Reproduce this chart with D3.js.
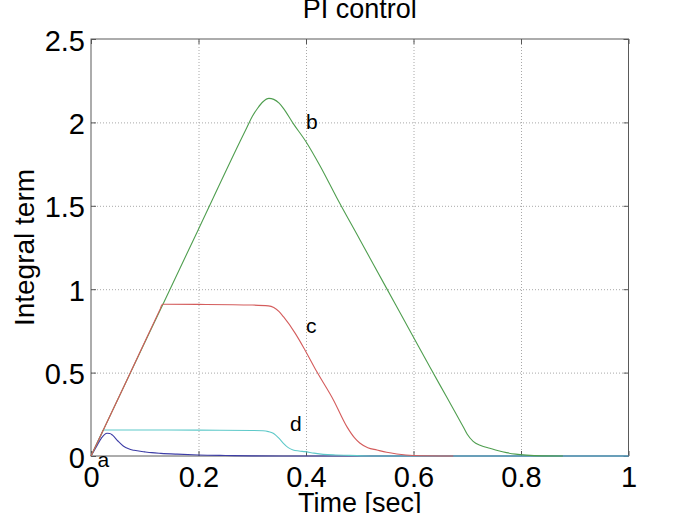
<!DOCTYPE html>
<html>
<head>
<meta charset="utf-8">
<script src="https://cdn.jsdelivr.net/npm/d3@7/dist/d3.min.js"></script>
<style>
  body { margin: 0; background: #fff; }
  text { font-family: "Liberation Sans", Arial, sans-serif; fill: #000; }
</style>
</head>
<body>
<div id="chart"></div>
<script>
// tick values and their labels
var xTicks = [0, 0.2, 0.4, 0.6, 0.8, 1];
var xTickLabels = ["0", "0.2", "0.4", "0.6", "0.8", "1"];
var yTicks = [0, 0.5, 1, 1.5, 2, 2.5];
var yTickLabels = ["0", "0.5", "1", "1.5", "2", "2.5"];

// curve a (blue)
var timeA = [0, 0.01, 0.02, 0.025, 0.03, 0.035, 0.04, 0.05, 0.06, 0.07, 0.08, 0.10, 0.113, 0.13, 0.16, 0.20, 0.25, 0.30, 0.40, 0.52, 1.0];
var valueA = [0, 0.055, 0.11, 0.128, 0.136, 0.135, 0.125, 0.09, 0.06, 0.043, 0.034, 0.025, 0.02, 0.016, 0.011, 0.006, 0.003, 0.001, 0, 0, 0];

// curve b (green)
var timeB = [0, 0.1, 0.2, 0.277, 0.29, 0.30, 0.31, 0.32, 0.331, 0.34, 0.35, 0.358, 0.376, 0.40, 0.426, 0.457, 0.50, 0.55, 0.60, 0.631, 0.662, 0.693, 0.70, 0.711, 0.725, 0.742, 0.758, 0.773, 0.79, 0.81, 0.84, 0.878];
var valueB = [0, 0.68, 1.36, 1.884, 1.97, 2.035, 2.085, 2.124, 2.144, 2.138, 2.115, 2.084, 1.994, 1.884, 1.74, 1.55, 1.298, 1.005, 0.712, 0.53, 0.352, 0.172, 0.13, 0.088, 0.063, 0.046, 0.031, 0.02, 0.011, 0.005, 0.001, 0];

// curve c (red)
var timeC = [0, 0.066, 0.128, 0.133, 0.2, 0.3, 0.33, 0.34, 0.35, 0.358, 0.38, 0.398, 0.42, 0.451, 0.476, 0.49, 0.50, 0.515, 0.532, 0.55, 0.569, 0.60, 0.674];
var valueC = [0, 0.449, 0.876, 0.91, 0.909, 0.905, 0.9, 0.89, 0.865, 0.835, 0.735, 0.636, 0.506, 0.336, 0.176, 0.11, 0.078, 0.05, 0.036, 0.022, 0.012, 0.003, 0];

// curve d (cyan)
var timeD = [0, 0.012, 0.02, 0.023, 0.1, 0.2, 0.3, 0.32, 0.33, 0.339, 0.35, 0.358, 0.367, 0.376, 0.387, 0.398, 0.415, 0.432, 0.455, 0.48, 0.52, 1.0];
var valueD = [0, 0.082, 0.137, 0.156, 0.156, 0.155, 0.153, 0.151, 0.146, 0.136, 0.105, 0.076, 0.05, 0.036, 0.03, 0.026, 0.017, 0.01, 0.006, 0.004, 0, 0];

var curveNames = ["a", "d", "b", "c"];
var curveLabels = [
    {name: "a", t: 0.012, v: -0.066},
    {name: "b", t: 0.4, v: 1.96},
    {name: "c", t: 0.4, v: 0.74},
    {name: "d", t: 0.37, v: 0.15}
];

var chart = {
    width: 694,
    height: 513,
    margin: {top: 39, right: 65.5, bottom: 57, left: 91},
    colors: {a: "#3d3da6", b: "#4f9e4f", c: "#d45c5c", d: "#5ec9c9"},
    initialize: function() {
        var self = this;
        self.innerW = self.width - self.margin.left - self.margin.right;
        self.innerH = self.height - self.margin.top - self.margin.bottom;
        self.svg = d3.select("#chart").append("svg")
            .attr("width", self.width)
            .attr("height", self.height);
        self.g = self.svg.append("g")
            .attr("transform", "translate(" + self.margin.left + "," + self.margin.top + ")");
        self.x = d3.scaleLinear().domain([0, 1]).range([0, self.innerW]);
        self.y = d3.scaleLinear().domain([0, 2.5]).range([self.innerH, 0]);
    },
    draw_grid: function() {
        var self = this;
        self.g.append("g")
            .attr("transform", "translate(0," + self.innerH + ")")
            .call(d3.axisBottom(self.x).tickValues(xTicks.slice(1, -1)).tickSize(-self.innerH).tickFormat(""))
            .call(function(g) { g.select(".domain").remove(); })
            .selectAll("line")
            .attr("stroke", "#a8a8a8")
            .attr("stroke-dasharray", "1,2");
        self.g.append("g")
            .call(d3.axisLeft(self.y).tickValues(yTicks.slice(1, -1)).tickSize(-self.innerW).tickFormat(""))
            .call(function(g) { g.select(".domain").remove(); })
            .selectAll("line")
            .attr("stroke", "#a8a8a8")
            .attr("stroke-dasharray", "1,2");
    },
    draw_curves: function() {
        var self = this;
        var data = {
            a: d3.zip(timeA, valueA),
            b: d3.zip(timeB, valueB),
            c: d3.zip(timeC, valueC),
            d: d3.zip(timeD, valueD)
        };
        var line = d3.line()
            .x(function(d) { return self.x(d[0]); })
            .y(function(d) { return self.y(d[1]); })
            .curve(d3.curveMonotoneX);
        curveNames.forEach(function(name) {
            self.g.append("path")
                .datum(data[name])
                .attr("fill", "none")
                .attr("stroke", self.colors[name])
                .attr("stroke-width", 1.1)
                .attr("d", line);
        });
    },
    draw_axes: function() {
        var self = this;
        var tickLen = 5;
        self.g.append("rect")
            .attr("width", self.innerW)
            .attr("height", self.innerH)
            .attr("fill", "none")
            .attr("stroke", "#5a5a5a")
            .attr("stroke-width", 1);
        var xb = self.g.append("g")
            .attr("transform", "translate(0," + self.innerH + ")")
            .call(d3.axisBottom(self.x).tickValues(xTicks).tickSize(-tickLen).tickPadding(0)
                .tickFormat(function(d, i) { return xTickLabels[i]; }));
        xb.select(".domain").remove();
        xb.selectAll("line").attr("stroke", "#555");
        xb.selectAll("text")
            .attr("y", 31).attr("dy", 0)
            .style("font-size", "29px");
        self.g.append("g")
            .call(d3.axisTop(self.x).tickValues(xTicks).tickSize(-tickLen).tickFormat(""))
            .call(function(g) { g.select(".domain").remove(); })
            .selectAll("line").attr("stroke", "#555");
        var yl = self.g.append("g")
            .call(d3.axisLeft(self.y).tickValues(yTicks).tickSize(-tickLen).tickPadding(0)
                .tickFormat(function(d, i) { return yTickLabels[i]; }));
        yl.select(".domain").remove();
        yl.selectAll("line").attr("stroke", "#555");
        yl.selectAll("text")
            .attr("x", -6).attr("dy", 11)
            .style("font-size", "29px");
        self.g.append("g")
            .attr("transform", "translate(" + self.innerW + ",0)")
            .call(d3.axisRight(self.y).tickValues(yTicks).tickSize(-tickLen).tickFormat(""))
            .call(function(g) { g.select(".domain").remove(); })
            .selectAll("line").attr("stroke", "#555");
    },
    draw_text: function() {
        var self = this;
        self.g.selectAll(".curve_label")
            .data(curveLabels)
            .enter()
            .append("text")
            .attr("class", "curve_label")
            .attr("x", function(d) { return self.x(d.t); })
            .attr("y", function(d) { return self.y(d.v); })
            .style("font-size", "21px")
            .text(function(d) { return d.name; });
        self.svg.append("text")
            .attr("x", self.margin.left + self.innerW / 2)
            .attr("y", 18)
            .attr("text-anchor", "middle")
            .style("font-size", "27px")
            .text("PI control");
        self.svg.append("text")
            .attr("x", self.margin.left + self.innerW / 2)
            .attr("y", 512)
            .attr("text-anchor", "middle")
            .style("font-size", "27px")
            .text("Time [sec]");
        self.svg.append("text")
            .attr("transform", "translate(34," + (self.margin.top + self.innerH / 2) + ") rotate(-90)")
            .attr("text-anchor", "middle")
            .style("font-size", "28px")
            .text("Integral term");
    }
};

chart.initialize();
chart.draw_grid();
chart.draw_axes();
chart.draw_curves();
chart.draw_text();
</script>
</body>
</html>
